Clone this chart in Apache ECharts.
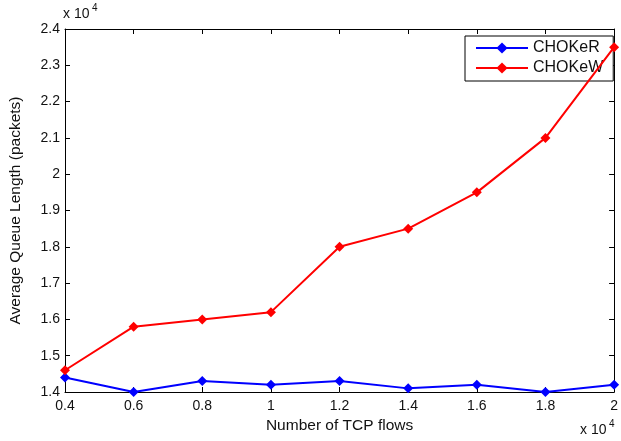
<!DOCTYPE html>
<html>
<head>
<meta charset="utf-8">
<script src="https://cdn.jsdelivr.net/npm/echarts@6/dist/echarts.min.js"></script>
<style>html,body{margin:0;padding:0;background:#fff}#c{width:621px;height:441px}</style>
</head>
<body>
<div id="c"></div>
<script>
// x in units of 10^4 TCP flows, y in units of 10^4 packets
const flows = [0.4, 0.6, 0.8, 1.0, 1.2, 1.4, 1.6, 1.8, 2.0];
const chokeR = [1.44, 1.40, 1.43, 1.42, 1.43, 1.41, 1.42, 1.40, 1.42];
const chokeW = [1.46, 1.58, 1.60, 1.62, 1.80, 1.85, 1.95, 2.10, 2.35];
const seriesNames = ['CHOKeR', 'CHOKeW'];

const font = 'Liberation Sans, Arial, sans-serif';
const chart = echarts.init(document.getElementById('c'));
const fmt = v => String(+(+v).toFixed(1));
const axisBase = {
  type: 'value',
  axisLine: {show: true, onZero: false, lineStyle: {color: '#000', width: 1}},
  axisTick: {show: true, inside: true, length: 5, lineStyle: {color: '#000'}},
  splitLine: {show: false}
};
chart.setOption({
  animation: false,
  backgroundColor: '#fff',
  grid: {left: 62, right: 4, top: 29, bottom: 49, containLabel: false},
  xAxis: [
    Object.assign({}, axisBase, {min: 0.4, max: 2, interval: 0.2, position: 'bottom',
      axisLabel: {formatter: fmt, color: '#111', fontFamily: font, fontSize: 14, margin: 7},
      name: 'Number of TCP flows', nameLocation: 'middle', nameGap: 26,
      nameTextStyle: {color: '#111', fontFamily: font, fontSize: 15.5}}),
    Object.assign({}, axisBase, {min: 0.4, max: 2, interval: 0.2, position: 'top',
      axisLabel: {show: false}})
  ],
  yAxis: [
    Object.assign({}, axisBase, {min: 1.4, max: 2.4, interval: 0.1, position: 'left',
      axisLabel: {formatter: fmt, color: '#111', fontFamily: font, fontSize: 14, margin: 5},
      name: 'Average Queue Length (packets)', nameLocation: 'middle', nameGap: 41,
      nameTextStyle: {color: '#111', fontFamily: font, fontSize: 15.5}}),
    Object.assign({}, axisBase, {min: 1.4, max: 2.4, interval: 0.1, position: 'right',
      axisLabel: {show: false}})
  ],
  legend: {
    left: 465, top: 36, orient: 'vertical',
    backgroundColor: '#fff', borderColor: '#000', borderWidth: 1,
    padding: [4, 10, 5, 10], itemGap: 4, itemWidth: 52, itemHeight: 14,
    textStyle: {color: '#111', fontFamily: font, fontSize: 16},
    data: seriesNames
  },
  series: [
    {name: seriesNames[0], type: 'line', data: flows.map((x, i) => [x, chokeR[i]]),
      color: '#0000ff', lineStyle: {width: 2}, symbol: 'diamond', symbolSize: 10, z: 3},
    {name: seriesNames[1], type: 'line', data: flows.map((x, i) => [x, chokeW[i]]),
      color: '#ff0000', lineStyle: {width: 2}, symbol: 'diamond', symbolSize: 10, z: 4}
  ],
  graphic: [
    {type: 'text', left: 63, top: 7, style: {text: 'x 10', font: '14px ' + font, fill: '#111'}},
    {type: 'text', left: 92, top: 3, style: {text: '4', font: '10px ' + font, fill: '#111'}},
    {type: 'text', left: 580, top: 423, style: {text: 'x 10', font: '14px ' + font, fill: '#111'}},
    {type: 'text', left: 609, top: 419, style: {text: '4', font: '10px ' + font, fill: '#111'}}
  ]
});
</script>
</body>
</html>
